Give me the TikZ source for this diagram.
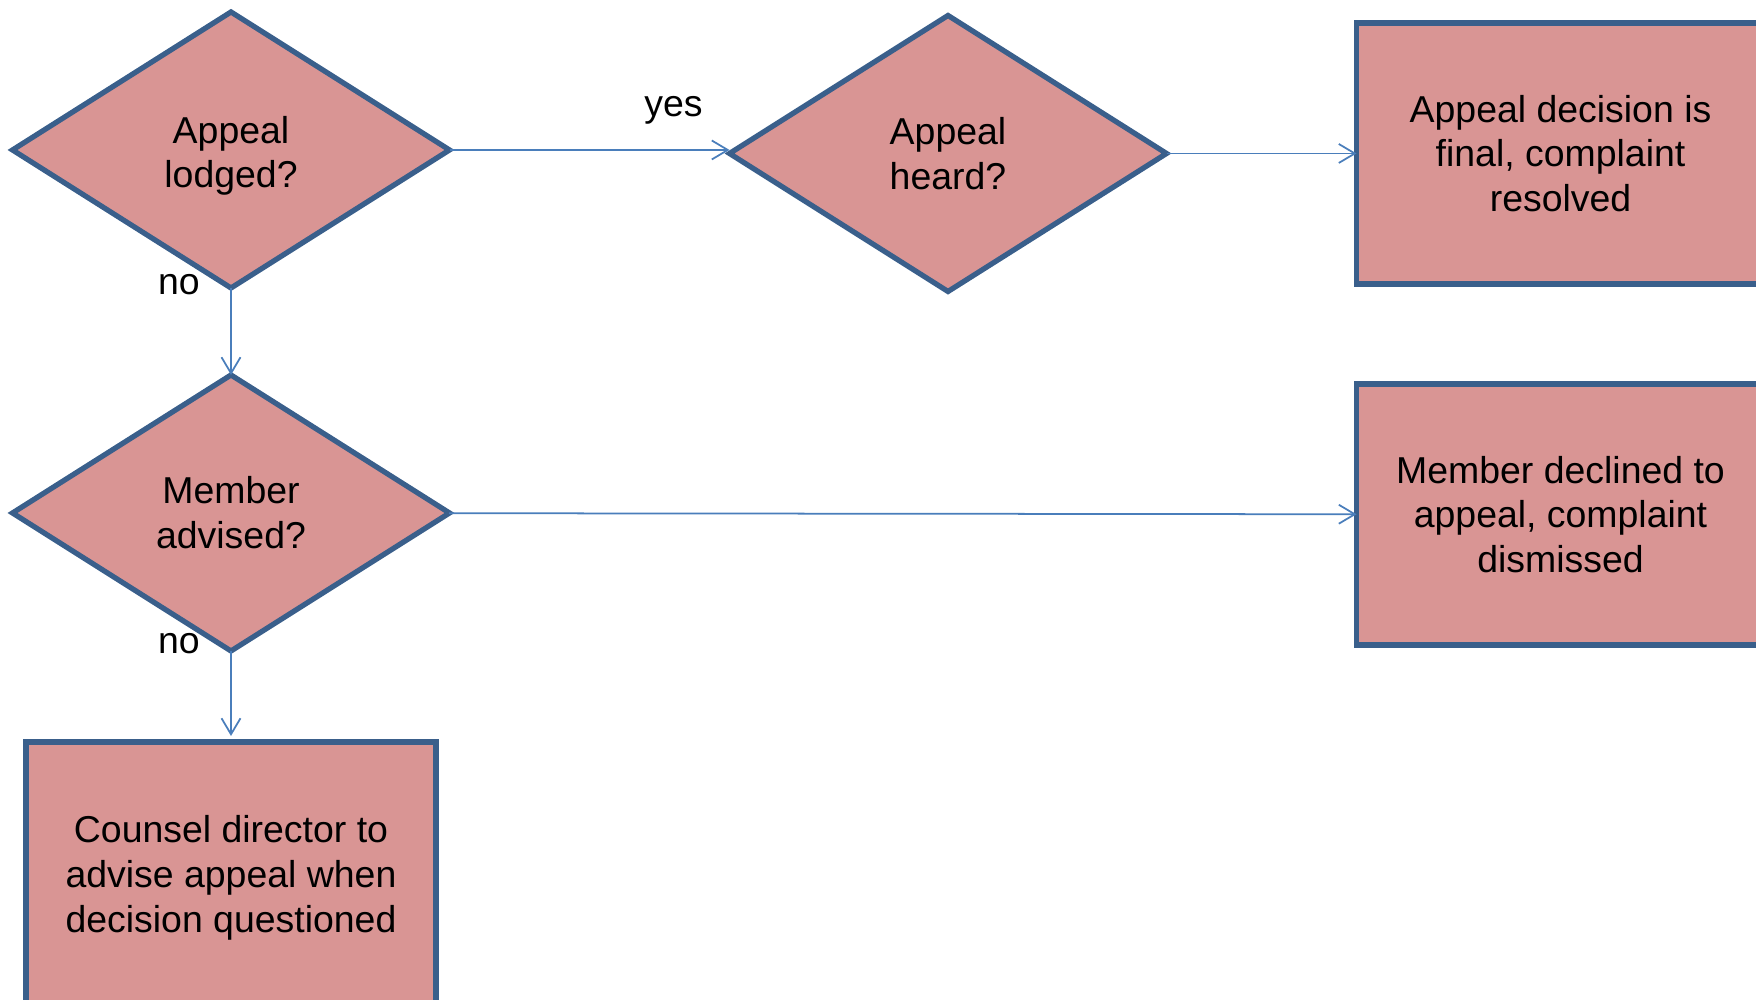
\documentclass[tikz,border=0pt]{standalone}
\usepackage{fontspec}
\setmainfont{Liberation Sans}
\usetikzlibrary{positioning,shapes.geometric,arrows.meta}

\definecolor{boxfill}{HTML}{D99594}
\definecolor{boxline}{HTML}{3A5F8B}
\definecolor{arrline}{HTML}{4A7EBB}

\begin{document}
\begin{tikzpicture}[
	font=\fontsize{10.65}{12.75}\selectfont,
	decision/.style={diamond, draw=boxline, fill=boxfill, line width=1.5pt,
		minimum width=4.37cm, minimum height=2.76cm, align=center, inner sep=0pt, outer sep=0pt},
	outcome/.style={rectangle, draw=boxline, fill=boxfill, line width=1.5pt,
		minimum width=4.08cm, minimum height=2.61cm, align=center, outer sep=0pt},
	flow/.style={draw=arrline, line width=0.5pt, -{Straight Barb[length=1.6mm, width=1.9mm]}}
	]
	\useasboundingbox (0,0) rectangle (17.56,10); % Page size
	
	% Decisions
	\node[decision] (lodged) at (2.31,8.5) {\rule{0pt}{11pt}Appeal\\lodged?};
	\node[decision, right=2.8cm of lodged, yshift=-0.035cm] (heard) {Appeal\\heard?};
	\node[decision, below=0.87cm of lodged] (advised) {Member\\advised?};
	
	% Outcomes
	\node[outcome, right=1.9cm of heard] (final) {Appeal decision is\\final, complaint\\resolved};
	\node[outcome, below=1cm of final] (declined) {Member declined to\\appeal, complaint\\dismissed};
	\node[outcome, minimum width=4.1cm, minimum height=2.72cm, below=0.91cm of advised] (counsel) {Counsel director to\\advise appeal when\\decision questioned};
	
	% Connectors
	\draw[flow] (lodged.east) -- node[pos=0.8, yshift=0.4cm] (yeslbl) {yes} (lodged.east -| heard.west);
	\draw[flow] (heard) -- (final);
	\draw[flow] (lodged) -- node[at start, xshift=-0.52cm, yshift=0.03cm] (nolbla) {no} (advised);
	\draw[flow] (advised) -- (declined);
	\draw[flow] (advised) -- node[at start, xshift=-0.52cm, yshift=0.07cm] (nolblb) {no} ([yshift=0.06cm]counsel.north);
\end{tikzpicture}
\end{document}
